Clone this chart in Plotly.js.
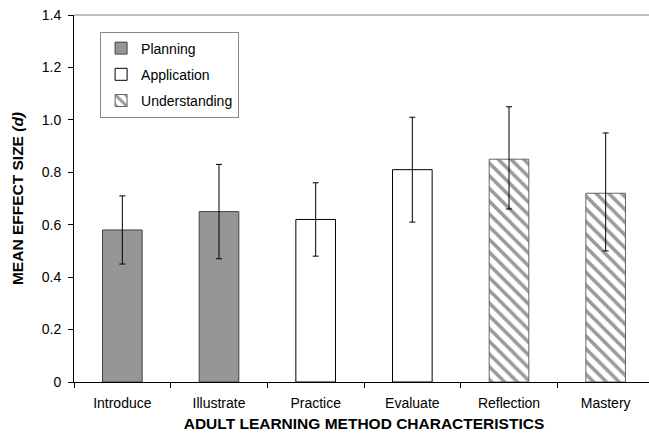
<!DOCTYPE html>
<html>
<head>
<meta charset="utf-8">
<script src="https://cdn.plot.ly/plotly-3.0.1.min.js"></script>
<style>html,body{margin:0;padding:0;overflow:hidden;background:#fff;}</style>
</head>
<body>
<div id="chart"></div>
<script>
const categories = ["Introduce","Illustrate","Practice","Evaluate","Reflection","Mastery"];
const planningCats = ["Introduce","Illustrate"];
const planningVals = [0.58, 0.65];
const planningUpper = [0.71, 0.83];
const planningLower = [0.45, 0.47];
const applicationCats = ["Practice","Evaluate"];
const applicationVals = [0.62, 0.81];
const applicationUpper = [0.76, 1.01];
const applicationLower = [0.48, 0.61];
const understandingCats = ["Reflection","Mastery"];
const understandingVals = [0.85, 0.72];
const understandingUpper = [1.05, 0.95];
const understandingLower = [0.66, 0.50];
const yTickVals = [0,0.2,0.4,0.6,0.8,1.0,1.2,1.4];
const yTickText = ["0","0.2","0.4","0.6","0.8","1.0","1.2","1.4"];

function err(vals, up, lo){
  return {type:"data", symmetric:false,
    array: vals.map((v,i)=>+(up[i]-v).toFixed(3)),
    arrayminus: vals.map((v,i)=>+(v-lo[i]).toFixed(3)),
    color:"#000", thickness:1, width:3};
}
const W = 0.41;
const traces = [
  {type:"bar", name:"Planning", x:planningCats, y:planningVals, width:W,
   legendgroup:"a",
   marker:{color:"#969696", line:{color:"#444", width:1}},
   error_y: err(planningVals, planningUpper, planningLower)},
  {type:"bar", name:"Application", x:applicationCats, y:applicationVals, width:W,
   legendgroup:"b",
   marker:{color:"#ffffff", line:{color:"#000", width:1}},
   error_y: err(applicationVals, applicationUpper, applicationLower)},
  {type:"bar", name:"Understanding", x:understandingCats, y:understandingVals, width:W,
   legendgroup:"c",
   marker:{color:"#ffffff", line:{color:"#666", width:1},
     pattern:{shape:"\\", fgcolor:"#9a9a9a", bgcolor:"#ffffff", size:9, solidity:0.4}},
   error_y: err(understandingVals, understandingUpper, understandingLower)}
];
const layout = {
  width:665, height:437,
  margin:{l:74, r:11, t:15, b:55},
  paper_bgcolor:"#fff", plot_bgcolor:"#fff",
  font:{family:"Liberation Sans, Arial, sans-serif", size:14, color:"#000"},
  barmode:"overlay",
  showlegend:true,
  legend:{x:0.045, y:0.955, xanchor:"left", yanchor:"top",
    bordercolor:"#888", borderwidth:1, bgcolor:"#fff",
    font:{size:14}, traceorder:"grouped", tracegroupgap:5},
  xaxis:{type:"category", categoryorder:"array", categoryarray:categories,
    range:[-0.5,5.5],
    showline:true, linecolor:"#000", linewidth:1,
    ticks:"outside", tickson:"boundaries", ticklen:5, tickcolor:"#000",
    ticklabelstandoff:8,
    showgrid:false, zeroline:false,
    tickfont:{size:14},
    title:{text:"<b>ADULT LEARNING METHOD CHARACTERISTICS</b>", font:{size:15.5}, standoff:8}},
  yaxis:{range:[0,1.4], tickvals:yTickVals, ticktext:yTickText,
    showline:true, linecolor:"#000", linewidth:1,
    ticks:"outside", ticklen:5, tickcolor:"#000",
    ticklabelstandoff:4,
    showgrid:false, zeroline:false, tickfont:{size:14},
    title:{text:"<b>MEAN EFFECT SIZE <i>(d)</i></b>", font:{size:15.5}, standoff:14}},
  shapes:[{type:"line", xref:"paper", yref:"paper", x0:0, x1:1, y0:1, y1:1,
    line:{color:"#808080", width:1}}]
};
Plotly.newPlot("chart", traces, layout, {staticPlot:true, displayModeBar:false});
</script>
</body>
</html>
